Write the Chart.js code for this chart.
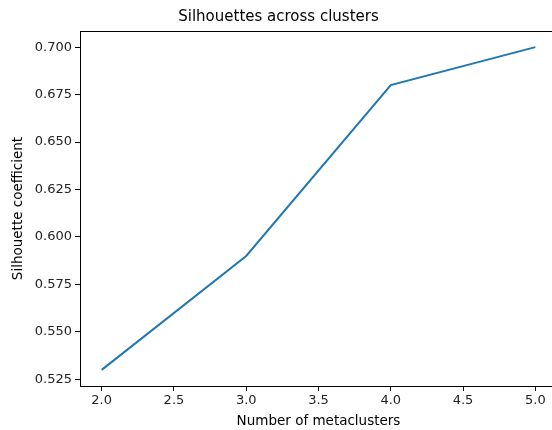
<!DOCTYPE html>
<html lang="en">
<head>
<meta charset="UTF-8">
<title>Silhouettes across clusters</title>
<script src="https://cdn.jsdelivr.net/npm/chart.js"></script>
<style>
  html, body { margin: 0; padding: 0; overflow: hidden; background: #fff; }
  #wrap { width: 552px; height: 430px; overflow: hidden; }
</style>
</head>
<body>
<div id="wrap"><canvas id="chart" width="562" height="430"></canvas></div>
<script>
    const clusterCounts = [2, 3, 4, 5];
    const silhouettes = [0.53, 0.59, 0.68, 0.70];
    const xTicks = [2.0, 2.5, 3.0, 3.5, 4.0, 4.5, 5.0];
    const yTicks = [0.525, 0.550, 0.575, 0.600, 0.625, 0.650, 0.675, 0.700];

    const font = "'DejaVu Sans', sans-serif";

    // top and right spines, matplotlib style
    const frame = {
        id: 'frame',
        afterDraw(chart) {
            const a = chart.chartArea, ctx = chart.ctx;
            ctx.save();
            ctx.strokeStyle = '#000';
            ctx.lineWidth = 1;
            ctx.strokeRect(Math.round(a.left) + 0.5, Math.round(a.top) + 0.5,
                Math.round(a.right - a.left), Math.round(a.bottom - a.top));
            ctx.restore();
        }
    };

    new Chart(document.getElementById('chart'), {
        type: 'line',
        data: {
            datasets: [{
                data: clusterCounts.map((x, i) => ({ x: x, y: silhouettes[i] })),
                borderColor: '#1f77b4',
                borderWidth: 2,
                pointRadius: 0,
                tension: 0,
                fill: false
            }]
        },
        options: {
            responsive: false,
            animation: false,
            layout: { padding: { left: 0, right: 5, top: 0, bottom: 0 } },
            plugins: {
                legend: { display: false },
                tooltip: { enabled: false },
                title: {
                    display: true,
                    text: 'Silhouettes across clusters',
                    color: '#000',
                    font: { family: font, size: 15, weight: 'normal' },
                    padding: { top: 8, bottom: 5 }
                }
            },
            scales: {
                x: {
                    type: 'linear',
                    min: 1.85,
                    max: 5.15,
                    afterBuildTicks: s => { s.ticks = xTicks.map(v => ({ value: v })); },
                    afterFit: s => { s.height = 44; },
                    ticks: {
                        color: '#222',
                        font: { family: font, size: 13 },
                        padding: 2,
                        maxRotation: 0,
                        callback: v => v.toFixed(1)
                    },
                    grid: { drawOnChartArea: false, tickLength: 5, color: '#000' },
                    border: { color: '#000', width: 1 },
                    title: {
                        display: true,
                        text: 'Number of metaclusters',
                        color: '#000',
                        font: { family: font, size: 13.5 },
                        padding: { top: 3, bottom: 0 }
                    }
                },
                y: {
                    type: 'linear',
                    min: 0.5215,
                    max: 0.7085,
                    afterBuildTicks: s => { s.ticks = yTicks.map(v => ({ value: v })); },
                    afterFit: s => { s.width = 80; },
                    ticks: {
                        color: '#222',
                        font: { family: font, size: 13 },
                        padding: 3,
                        callback: v => v.toFixed(3)
                    },
                    grid: { drawOnChartArea: false, tickLength: 5, color: '#000' },
                    border: { color: '#000', width: 1 },
                    title: {
                        display: true,
                        text: 'Silhouette coefficient',
                        color: '#000',
                        font: { family: font, size: 13.5 },
                        padding: { top: 10, bottom: 0 }
                    }
                }
            }
        },
        plugins: [frame]
    });
</script>
</body>
</html>
